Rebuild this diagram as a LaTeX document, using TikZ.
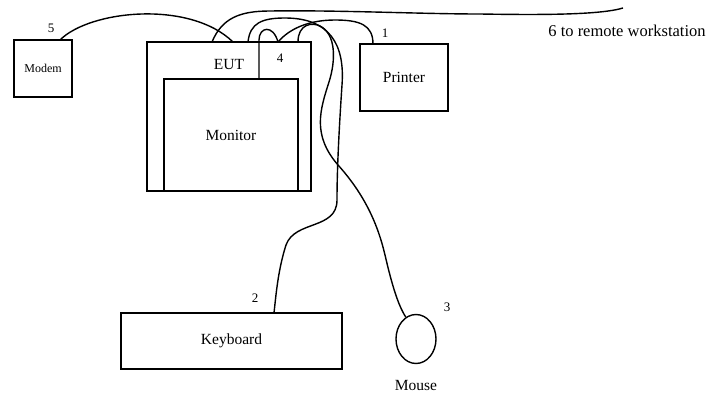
\documentclass[tikz,border=0pt]{standalone}
\usepackage{fontspec}
\setmainfont{Liberation Serif}
\usetikzlibrary{shapes.geometric}
\begin{document}
\begin{tikzpicture}[x=1pt,y=-1pt,
  line width=1.4pt,
  box/.style={draw, inner sep=0pt, line width=1.4pt},
  big/.style={font=\fontsize{15.5}{17}\selectfont},
  small/.style={font=\fontsize{12}{14}\selectfont},
  num/.style={font=\fontsize{13}{15}\selectfont, inner sep=0pt}]
\useasboundingbox[fill=white] (0,0) rectangle (710,399);
% boxes
\node[box, small, minimum width=58pt, minimum height=57pt] (modem) at (43,68.5) {Modem};
\node[box, minimum width=164pt, minimum height=149pt] (eut) at (229,116.5) {};
\node[box, big, minimum width=134pt, minimum height=112pt] (monitor) at (231,135) {Monitor};
\node[big, inner sep=0pt] (euttxt) at (229,64) {EUT};
\node[box, big, minimum width=88pt, minimum height=67pt] (printer) at (404,77.5) {Printer};
\node[box, big, minimum width=221pt, minimum height=56pt] (keyboard) at (231.5,341) {Keyboard};
\node[draw, ellipse, line width=1.4pt, minimum width=40pt, minimum height=49pt, inner sep=0pt] (mouse) at (416,339) {};
% labels
\node[num] (n1) at (385,33) {1};
\node[num] (n2) at (255,298) {2};
\node[num] (n3) at (447,307) {3};
\node[num] (n4) at (280,58) {4};
\node[num] (n5) at (51,28) {5};
\node[font=\fontsize{16.5}{18}\selectfont, inner sep=0pt] (remote) at (627,31) {6 to remote workstation};
\node[big, inner sep=0pt] (mousetxt) at (416,385) {Mouse};
% ports
\coordinate (pmodem) at (60,40);
\coordinate (e6) at (212,42);
\coordinate (e5) at (233,42);
\coordinate (e2) at (248,42);
\coordinate (mon) at (259,79);
\coordinate (e4) at (278,42);
\coordinate (e3) at (298,42);
\coordinate (pprn) at (373,44);
\coordinate (pkbd) at (274,313);
\coordinate (rem) at (623,8);
% cables
\draw (pmodem) .. controls (90,10) and (190,0) .. (e5);
\draw (e6) .. controls (222,18) and (240,11) .. (270,11)
  .. controls (340,10) and (420,14) .. (480,14)
  .. controls (540,15) and (600,15) .. (rem);
\draw (e2) .. controls (250,23) and (262,18) .. (285,18)
  .. controls (330,18) and (345,45) .. (342,85)
  .. controls (339,130) and (337,170) .. (337,200)
  .. controls (337,230) and (295,220) .. (286,245)
  .. controls (278,270) and (276,295) .. (pkbd);
\draw (mon) -- (259,40) .. controls (259,27) and (273,24) .. (e4);
\draw (e4) .. controls (290,28) and (310,20) .. (335,20)
  .. controls (360,20) and (373,25) .. (pprn);
\draw (e3) .. controls (298,24) and (312,22) .. (320,26)
  .. controls (336,34) and (336,60) .. (329,82)
  .. controls (320,110) and (312,135) .. (338,165)
  .. controls (365,195) and (378,225) .. (385,255)
  .. controls (392,285) and (398,305) .. (mouse.115);
\end{tikzpicture}
\end{document}
